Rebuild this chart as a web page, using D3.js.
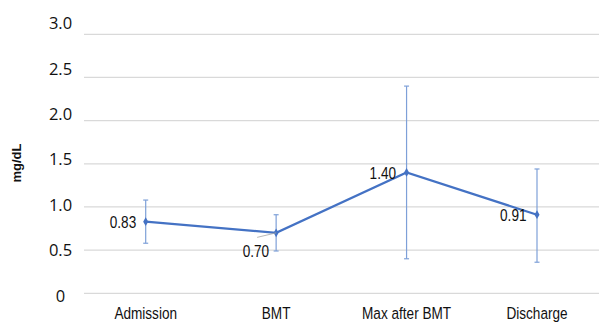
<!DOCTYPE html>
<html><head><meta charset="utf-8">
<script src="https://cdn.jsdelivr.net/npm/d3@7"></script>
<style>body{margin:0;background:#fff}svg{display:block}</style>
</head><body>
<script>
const categories = ["Admission", "BMT", "Max after BMT", "Discharge"];
const means = [0.83, 0.70, 1.40, 0.91];
const upper = [1.08, 0.91, 2.40, 1.44];
const lower = [0.58, 0.49, 0.40, 0.36];
const yTicks = [0, 0.5, 1.0, 1.5, 2.0, 2.5, 3.0];
const yTickLabels = ["0", "0.5", "1.0", "1.5", "2.0", "2.5", "3.0"];
const yTitle = "mg/dL";

const W = 599, H = 322;
const svg = d3.select("body").append("svg").attr("width", W).attr("height", H);

const x = d3.scalePoint().domain(categories).range([145.7, 537]);
const y = d3.scaleLinear().domain([0, 3]).range([293.3, 34.3]);
const yLab = d3.scaleLinear().domain([0, 3]).range([295, 22.7]);
const NARROW = "'Liberation Sans', Arial, sans-serif";
const SX = 0.8;

// gridlines
svg.append("g").selectAll("line").data(yTicks).join("line")
  .attr("x1", 84).attr("x2", 599)
  .attr("y1", d => y(d)).attr("y2", d => y(d))
  .attr("stroke", "#d9d9d9").attr("stroke-width", 1.3);

// y tick labels
svg.append("g").selectAll("text").data(yTicks).join("text")
  .attr("x", 60.5).attr("y", d => yLab(d))
  .attr("text-anchor", "middle").attr("dominant-baseline", "central")
  .attr("font-family", "'Open Sans', sans-serif").attr("font-size", 16.5)
  .attr("fill", "#111")
  .text((d, i) => yTickLabels[i]);

// y title
svg.append("text")
  .attr("transform", "translate(16,163) rotate(-90)")
  .attr("text-anchor", "middle").attr("dominant-baseline", "central")
  .attr("font-family", "'Liberation Sans', Arial, sans-serif").attr("font-weight", "bold")
  .attr("font-size", 13).attr("fill", "#111")
  .text(yTitle);

// category labels
svg.append("g").selectAll("text").data(categories).join("text")
  .attr("transform", d => `translate(${x(d)},313) scale(${SX},1)`)
  .attr("text-anchor", "middle").attr("dominant-baseline", "central")
  .attr("font-family", NARROW)
  .attr("font-size", 17).attr("fill", "#111")
  .text(d => d);

// error bars
const eb = svg.append("g").attr("stroke", "#7ea0d8").attr("stroke-width", 1.2);
categories.forEach((c, i) => {
  const cx = x(c);
  eb.append("line").attr("x1", cx).attr("x2", cx).attr("y1", y(upper[i])).attr("y2", y(lower[i]));
  eb.append("line").attr("x1", cx - 2.5).attr("x2", cx + 2.5).attr("y1", y(upper[i])).attr("y2", y(upper[i]));
  eb.append("line").attr("x1", cx - 2.5).attr("x2", cx + 2.5).attr("y1", y(lower[i])).attr("y2", y(lower[i]));
});

// line
const line = d3.line().x((d, i) => x(categories[i])).y(d => y(d));
svg.append("path").datum(means).attr("d", line)
  .attr("fill", "none").attr("stroke", "#4472c4").attr("stroke-width", 2.2);

// markers
svg.append("g").selectAll("path").data(means).join("path")
  .attr("transform", (d, i) => `translate(${x(categories[i])},${y(d)})`)
  .attr("d", d3.symbol().type(d3.symbolDiamond).size(22))
  .attr("fill", "#4472c4");

// leader line for BMT label
svg.append("line")
  .attr("x1", x("BMT") - 19).attr("y1", y(means[1]) + 4.5)
  .attr("x2", x("BMT")).attr("y2", y(means[1]))
  .attr("stroke", "#a6a6a6").attr("stroke-width", 0.8);

// data labels
const labelOffsets = [[-9.5, 0], [-7, 18], [-10.5, 0], [-10.5, 0.5]];
svg.append("g").selectAll("text").data(means).join("text")
  .attr("transform", (d, i) => `translate(${x(categories[i]) + labelOffsets[i][0]},${y(d) + labelOffsets[i][1]}) scale(${SX},1)`)
  .attr("text-anchor", "end").attr("dominant-baseline", "central")
  .attr("font-family", NARROW)
  .attr("font-size", 17).attr("fill", "#111")
  .text(d => d.toFixed(2));
</script>
</body></html>
